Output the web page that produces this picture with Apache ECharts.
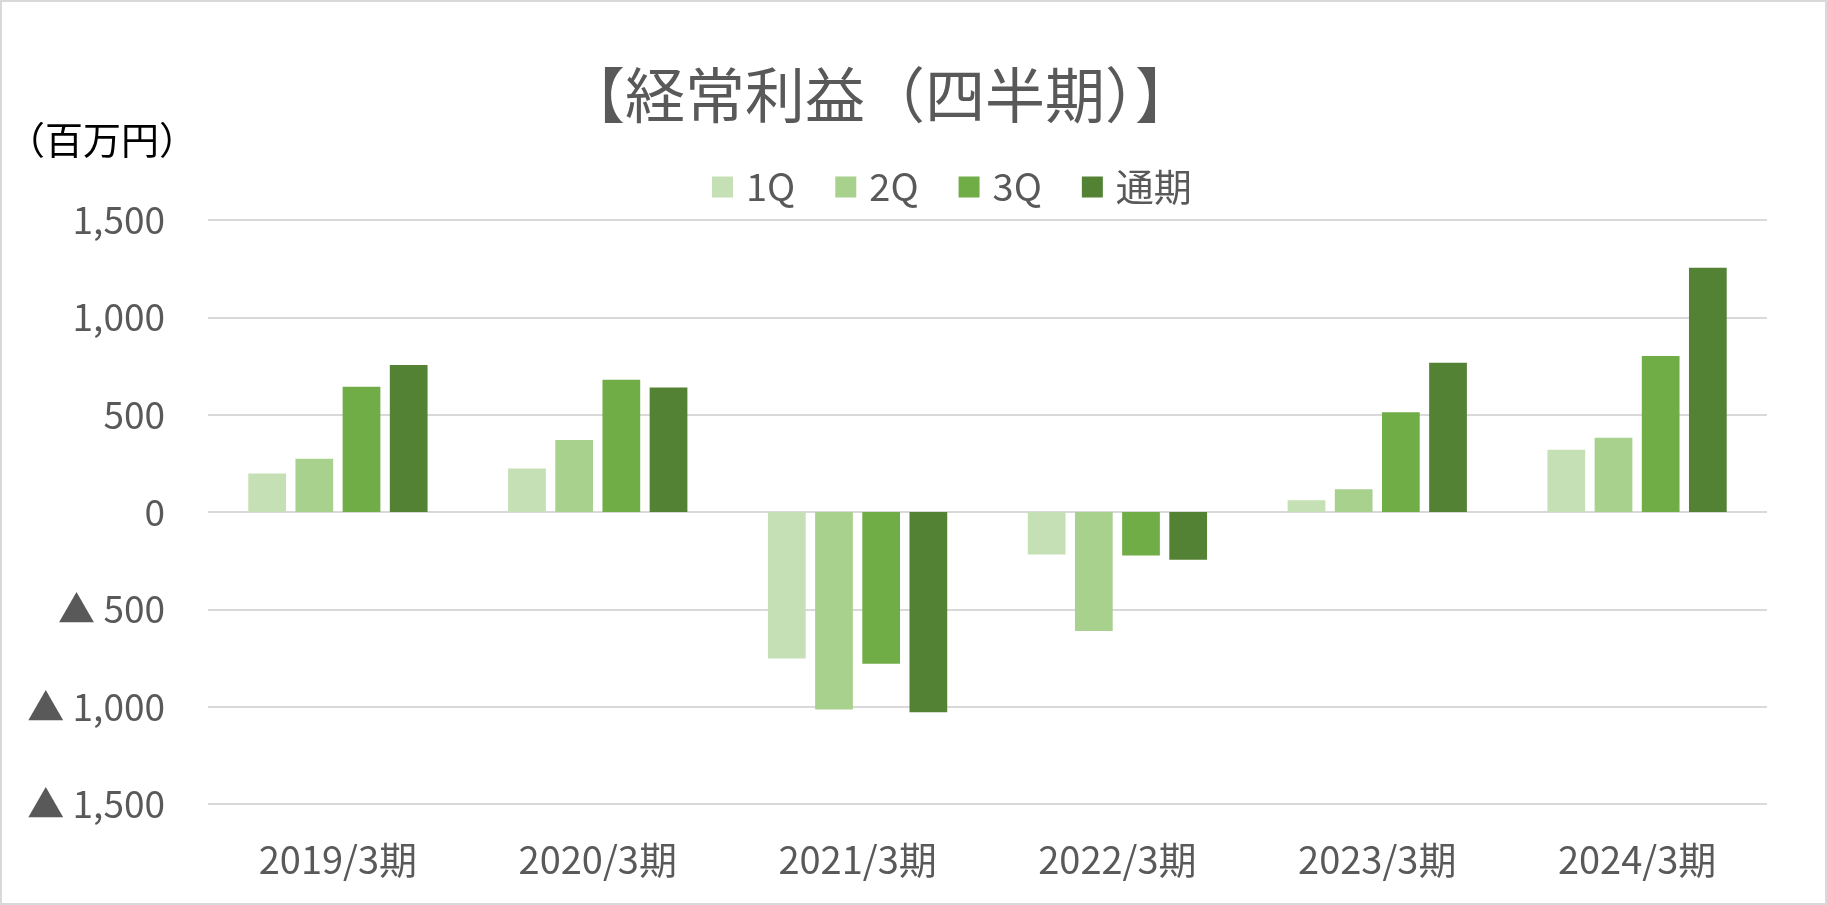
<!DOCTYPE html>
<html>
<head>
<meta charset="utf-8">
<script src="https://cdn.jsdelivr.net/npm/echarts@6/dist/echarts.min.js"></script>
<style>
html,body{margin:0;padding:0;background:#fff;}
#chart{width:1827px;height:905px;box-sizing:border-box;border:2px solid #d9d9d9;}
</style>
</head>
<body>
<div id="chart"></div>
<script>
const categories = ['2019/3期','2020/3期','2021/3期','2022/3期','2023/3期','2024/3期'];
const seriesNames = ['1Q','2Q','3Q','通期'];
const q1 = [198, 223, -753, -218, 61, 320];
const q2 = [274, 370, -1014, -611, 117, 381];
const q3 = [644, 679, -779, -224, 513, 802];
const full = [755, 639, -1029, -245, 767, 1255];
const colors = ['#C5E0B4','#A9D18E','#70AD47','#548235'];
const yTicks = [-1500, -1000, -500, 0, 500, 1000, 1500];

const FONT = "'Noto Sans CJK JP','Noto Sans',sans-serif";
const chart = echarts.init(document.getElementById('chart'), null, {renderer:'canvas'});
const fmt = v => {
  const s = Math.abs(v).toLocaleString('en-US');
  return v < 0 ? '▲ ' + s : s;
};
const dataSets = [q1, q2, q3, full];
chart.setOption({
  animation:false,
  color: colors,
  title:{
    text:'【経常利益（四半期）】',
    left:873, top:58, textAlign:'center',
    textStyle:{fontFamily:FONT, fontSize:60, fontWeight:'normal', color:'#595959'}
  },
  graphic:[{
    type:'text', left:5, top:119,
    style:{text:'（百万円）', font:"38px 'Noto Sans CJK JP'", fill:'#000'}
  }],
  legend:{
    data: seriesNames,
    left:705, top:161,
    itemWidth:21, itemHeight:21, itemGap:40,
    icon:'rect',
    textStyle:{fontFamily:FONT, fontSize:38, color:'#595959', padding:[0,0,0,8]}
  },
  grid:{left:206, right:58, top:218, bottom:99, containLabel:false},
  xAxis:{
    type:'category', data:categories,
    axisLine:{show:false, onZero:false},
    axisTick:{show:false},
    axisLabel:{fontFamily:FONT, fontSize:38, color:'#595959', margin:37}
  },
  yAxis:{
    type:'value', min:yTicks[0], max:yTicks[yTicks.length-1], interval:500,
    axisLine:{show:false}, axisTick:{show:false},
    splitLine:{lineStyle:{color:'#d9d9d9', width:2}},
    axisLabel:{fontFamily:FONT, fontSize:37, color:'#595959', margin:43, formatter:fmt}
  },
  series: seriesNames.map((n,i)=>({
    name:n, type:'bar', data:dataSets[i],
    barCategoryGap:'31%', barGap:'25%',
    itemStyle:{color:colors[i]}
  }))
});
</script>
</body>
</html>
